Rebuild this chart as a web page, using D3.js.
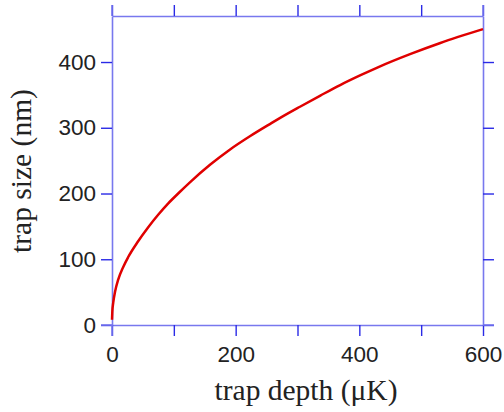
<!DOCTYPE html>
<html>
<head>
<meta charset="utf-8">
<script src="https://cdn.jsdelivr.net/npm/d3@7"></script>
<style>
  body { margin: 0; background: #fff; }
  svg { display: block; }
</style>
</head>
<body>
<div id="chart"></div>
<script>
// values
const depth = [0, 0.5, 2, 5, 10, 18, 26, 42, 58, 75, 91, 107, 126, 159, 191, 223, 256, 272, 304, 337, 369, 402, 430, 482, 531, 600];
const size  = [8, 20, 34, 51, 69, 88, 103, 127, 148, 168, 185, 200, 217, 244, 267, 287, 306, 315, 332, 349, 365, 380, 392, 412, 429, 450];
const xTicks = [0, 100, 200, 300, 400, 500, 600];
const yTicks = [0, 100, 200, 300, 400];

const width = 504, height = 412;
const plotLeft = 112, plotRight = 483, plotTop = 16, plotBottom = 325;

const svg = d3.select("#chart").append("svg")
    .attr("width", width)
    .attr("height", height);

const x = d3.scaleLinear().domain([0, 600]).range([plotLeft, plotRight]);
const y = d3.scaleLinear().domain([0, 470]).range([plotBottom, plotTop]);

function styleAxis(g) {
  g.select(".domain").attr("stroke", "#7878ee").attr("stroke-width", 1.6);
  g.selectAll(".tick line").attr("stroke", "#2a2ae6").attr("stroke-width", 1.4);
  g.selectAll(".tick text")
    .attr("fill", "#222")
    .style("font-family", "'Liberation Sans', Arial, sans-serif")
    .style("font-size", "22.5px");
}

svg.append("g")
    .attr("transform", `translate(0,${plotBottom})`)
    .call(d3.axisBottom(x).tickValues(xTicks).tickSize(11).tickSizeOuter(0).tickPadding(10)
      .tickFormat(d => d % 200 === 0 ? d : ""))
    .call(styleAxis);

svg.append("g")
    .attr("transform", `translate(0,${plotTop})`)
    .call(d3.axisTop(x).tickValues(xTicks).tickSize(11).tickSizeOuter(0).tickFormat(""))
    .call(styleAxis);

svg.append("g")
    .attr("transform", `translate(${plotLeft},0)`)
    .call(d3.axisLeft(y).tickValues(yTicks).tickSize(11).tickSizeOuter(0).tickPadding(5))
    .call(styleAxis);

svg.append("g")
    .attr("transform", `translate(${plotRight},0)`)
    .call(d3.axisRight(y).tickValues(yTicks).tickSize(11).tickSizeOuter(0).tickFormat(""))
    .call(styleAxis);

// extend frame lines to the corner ticks
const frameExt = [
  [plotLeft, plotTop - 11, plotLeft, plotTop],
  [plotLeft, plotBottom, plotLeft, plotBottom + 11],
  [plotRight, plotTop - 11, plotRight, plotTop],
  [plotLeft - 11, plotBottom, plotLeft, plotBottom],
  [plotRight, plotBottom, plotRight + 11, plotBottom]
];
svg.selectAll(".ext").data(frameExt).join("line")
    .attr("x1", d => d[0]).attr("y1", d => d[1])
    .attr("x2", d => d[2]).attr("y2", d => d[3])
    .attr("stroke", "#7878ee").attr("stroke-width", 1.6);

const line = d3.line()
    .x((d, i) => x(depth[i]))
    .y(d => y(d))
    .curve(d3.curveMonotoneX);

svg.append("path")
    .datum(size)
    .attr("fill", "none")
    .attr("stroke", "#e00000")
    .attr("stroke-width", 2.5)
    .attr("d", line);

svg.append("text")
    .attr("x", 306)
    .attr("y", 400)
    .attr("text-anchor", "middle")
    .attr("fill", "#222")
    .style("font-family", "'Liberation Serif', 'Times New Roman', serif")
    .style("font-size", "29.5px")
    .text("trap depth (μK)");

svg.append("text")
    .attr("transform", "translate(31,171) rotate(-90)")
    .attr("text-anchor", "middle")
    .attr("fill", "#222")
    .style("font-family", "'Liberation Serif', 'Times New Roman', serif")
    .style("font-size", "29.5px")
    .text("trap size (nm)");
</script>
</body>
</html>
